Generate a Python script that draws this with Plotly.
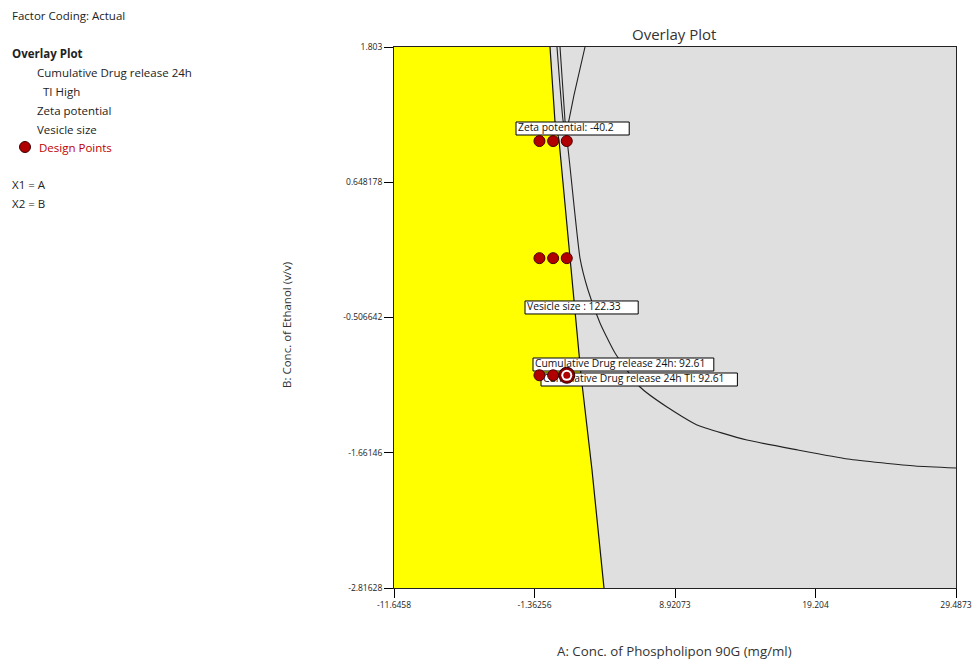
import plotly.graph_objects as go

# ---------------- data ----------------
x_ticks = [-11.6458, -1.36256, 8.92073, 19.204, 29.4873]
x_tick_labels = ["-11.6458", "-1.36256", "8.92073", "19.204", "29.4873"]
y_ticks = [-2.81628, -1.66146, -0.506642, 0.648178, 1.803]
y_tick_labels = ["-2.81628", "-1.66146", "-0.506642", "0.648178", "1.803"]

design_A = [-1, 0, 1, -1, 0, 1, -1, 0, 1]
design_B = [1, 1, 1, 0, 0, 0, -1, -1, -1]
flag_A = [1]
flag_B = [-1]

# boundary of the yellow (feasible) region
bound_A = [-0.228, 0.138, 0.430, 1.236, 2.041, 2.846, 3.724]
bound_B = [1.803, 1.163, 1.009, 0.001, -0.998, -1.809, -2.81628]

# Cumulative drug release 24h contour
cdr_A = [0.284, 0.723, 1.016, 1.968, 2.553, 3.431, 4.529, 6.359, 8.335, 10.531, 14.190,
         17.923, 21.582, 26.486, 29.4873]
cdr_B = [1.803, 1.180, 1.009, 0.001, -0.272, -0.554, -0.810, -1.100, -1.271, -1.424, -1.553,
         -1.638, -1.715, -1.775, -1.792]

# Zeta potential contour
zeta_A = [0.504, 0.723, 0.943, 1.528, 2.334]
zeta_B = [1.803, 1.393, 1.052, 1.393, 1.803]

flag_labels = ["Zeta potential: -40.2", "Vesicle size : 122.33",
               "Cumulative Drug release 24h: 92.61", "Cumulative Drug release 24h TI: 92.61"]
flag_label_A = [-2.716, -2.058, -1.472, -0.887]
flag_label_B = [1.107, -0.421, -0.908, -1.036]

legend_items = ["Cumulative Drug release 24h", "TI High", "Zeta potential", "Vesicle size"]

xmin, xmax = x_ticks[0], x_ticks[-1]
ymin, ymax = y_ticks[0], y_ticks[-1]

# ---------------- layout helpers ----------------
W, H = 972, 660
L, R, T, B = 394, 16, 47, 72
PW, PH = W - L - R, H - T - B
XPX = (xmax - xmin) / PW   # data units per pixel
YPX = (ymax - ymin) / PH


def px(xp):
    return (xp - L) / PW


def py(yp):
    return (H - B - yp) / PH


FONT = "Open Sans, Noto Sans, sans-serif"
LABEL_SIZE = 10.3

fig = go.Figure()

# ---- subplot 1: regions and contour lines ----
fig.add_trace(go.Scatter(
    x=[xmin] + bound_A + [xmin], y=[ymax] + bound_B + [ymin],
    fill="toself", fillcolor="#FFFF00", mode="lines", line=dict(width=0),
    hoverinfo="skip", showlegend=False))
fig.add_trace(go.Scatter(x=bound_A, y=bound_B, mode="lines",
                         line=dict(color="#111111", width=1.2), showlegend=False))
fig.add_trace(go.Scatter(x=cdr_A, y=cdr_B, mode="lines",
                         line=dict(color="#222222", width=1.1, shape="spline", smoothing=0.5),
                         showlegend=False))
fig.add_trace(go.Scatter(x=zeta_A, y=zeta_B, mode="lines",
                         line=dict(color="#222222", width=1.1), showlegend=False))

# ---- subplot 2 (same place, drawn on top): flag boxes, text, points ----
fig.add_trace(go.Scatter(x=[a + 2 * XPX for a in flag_label_A], y=flag_label_B, mode="text",
                         text=flag_labels, textposition="middle right", xaxis="x2", yaxis="y2",
                         textfont=dict(family=FONT, size=LABEL_SIZE, color="#111111"),
                         showlegend=False, hoverinfo="skip"))
fig.add_trace(go.Scatter(x=design_A, y=design_B, mode="markers", xaxis="x2", yaxis="y2",
                         marker=dict(size=11, color="#B00000", line=dict(color="#4a0000", width=1)),
                         showlegend=False))
fig.add_trace(go.Scatter(x=flag_A, y=flag_B, mode="markers", xaxis="x2", yaxis="y2",
                         marker=dict(size=16, color="#8a0000", line=dict(color="#300000", width=1)),
                         showlegend=False))
fig.add_trace(go.Scatter(x=flag_A, y=flag_B, mode="markers", xaxis="x2", yaxis="y2",
                         marker=dict(size=11, color="#FFFFFF", line=dict(width=0)), showlegend=False))
fig.add_trace(go.Scatter(x=flag_A, y=flag_B, mode="markers", xaxis="x2", yaxis="y2",
                         marker=dict(size=7, color="#B00000", line=dict(width=0)), showlegend=False))

shapes = [
    # plot background
    dict(type="rect", xref="paper", yref="paper", x0=0, x1=1, y0=0, y1=1,
         fillcolor="#DFDFDF", line=dict(width=0), layer="below"),
    # legend dot
    dict(type="circle", xref="paper", yref="paper",
         x0=px(19.5), x1=px(30.5), y0=py(152.5), y1=py(141.5),
         fillcolor="#B00000", line=dict(color="#400000", width=1)),
]
# white flag boxes behind the flag texts
for t, a, b in zip(flag_labels, flag_label_A, flag_label_B):
    wpx = len(t) * 5.2 + 4
    shapes.append(dict(type="rect", xref="x2", yref="y2", layer="below",
                       x0=a, x1=a + wpx * XPX, y0=b - 6.5 * YPX, y1=b + 6.5 * YPX,
                       fillcolor="#FFFFFF", line=dict(color="#000000", width=1)))

ann = []


def lt(x, y, text, size=11.5, color="#222222", bold=False):
    ann.append(dict(x=px(x), y=py(y), xref="paper", yref="paper",
                    text=f"<b>{text}</b>" if bold else text, showarrow=False,
                    xanchor="left", yanchor="middle",
                    font=dict(family=FONT, size=size, color=color)))


lt(10, 16, "Factor Coding: Actual")
lt(10, 53, "Overlay Plot", bold=True)
lt(35, 72, legend_items[0])
lt(41, 91, legend_items[1])
lt(35, 110, legend_items[2])
lt(35, 129, legend_items[3])
lt(37, 147, "Design Points", color="#C00000")
lt(10, 184, "X1 = A")
lt(10, 203, "X2 = B")

ann.append(dict(x=px(674), y=py(34), xref="paper", yref="paper", text="Overlay Plot",
                showarrow=False, xanchor="center", yanchor="middle",
                font=dict(family=FONT, size=15, color="#333333")))
ann.append(dict(x=px(674), y=py(651), xref="paper", yref="paper",
                text="A: Conc. of Phospholipon 90G (mg/ml)",
                showarrow=False, xanchor="center", yanchor="middle",
                font=dict(family=FONT, size=13.3, color="#333333")))
ann.append(dict(x=px(286), y=py(325), xref="paper", yref="paper",
                text="B: Conc. of Ethanol (v/v)", textangle=-90,
                showarrow=False, xanchor="center", yanchor="middle",
                font=dict(family=FONT, size=11.5, color="#333333")))

axis_common = dict(ticks="outside", ticklen=9, tickcolor="#000000", tickwidth=1,
                   showgrid=False, zeroline=False, showline=True, linecolor="#222222",
                   linewidth=1, mirror=True, automargin=False, ticklabeloverflow="allow",
                   tickfont=dict(family=FONT, size=8.5, color="#222222"))

fig.update_layout(
    width=W, height=H, autosize=False, margin=dict(l=L, r=R, t=T, b=B, autoexpand=False),
    paper_bgcolor="#FFFFFF", plot_bgcolor="rgba(0,0,0,0)",
    annotations=ann, shapes=shapes, showlegend=False,
    font=dict(family=FONT, color="#333333"),
    xaxis=dict(range=[xmin, xmax], tickvals=x_ticks, ticktext=x_tick_labels, **axis_common),
    yaxis=dict(range=[ymin, ymax], tickvals=y_ticks, ticktext=y_tick_labels, **axis_common),
    xaxis2=dict(domain=[0, 1], anchor="y2", range=[xmin, xmax], visible=False),
    yaxis2=dict(domain=[0, 1], anchor="x2", range=[ymin, ymax], visible=False),
)

post = ("document.body.style.margin='0';"
        "document.documentElement.style.overflow='hidden';"
        "var gd=document.getElementById('{plot_id}');"
        "Plotly.relayout(gd,{width:%d,height:%d});" % (W, H))

fig.write_html("out.html", post_script=post,
               config={"responsive": False, "displayModeBar": False})
